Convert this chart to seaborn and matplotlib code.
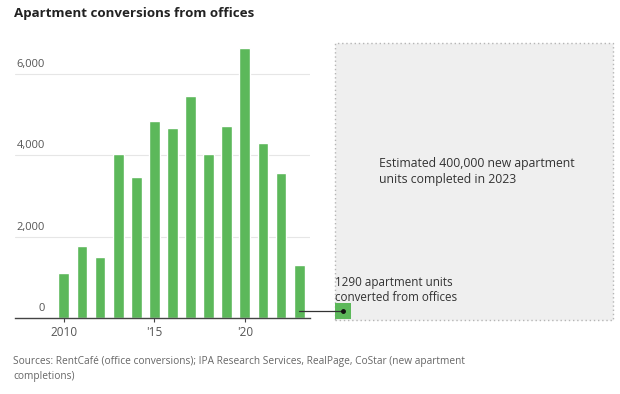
import matplotlib.pyplot as plt
import matplotlib.patches as mpatches
import pandas as pd
import seaborn as sns

years = [2010, 2011, 2012, 2013, 2014, 2015, 2016, 2017, 2018, 2019, 2020, 2021, 2022, 2023]
units = [1100, 1770, 1500, 4030, 3470, 4850, 4680, 5460, 4030, 4720, 6630, 4310, 3560, 1290]
ytick_vals = [0, 2000, 4000, 6000]
ytick_labels = ["0", "2,000", "4,000", "6,000"]
xtick_vals = [2010, 2015, 2020]
xtick_labels = ["2010", "'15", "'20"]

df = pd.DataFrame({"year": years, "units": units})

sns.set_style("white")
plt.rcParams["font.family"] = ["Open Sans", "DejaVu Sans"]

green = "#5cb85a"
W, H = 620, 394
fig = plt.figure(figsize=(6.2, 3.94), dpi=100)
ax = fig.add_axes([15 / W, (H - 318) / H, 295 / W, 275 / H])

sns.barplot(data=df, x="year", y="units", native_scale=True, color=green,
            width=0.6, saturation=1, ax=ax)

ax.set_xlim(2007.3, 2023.6)
ax.set_ylim(0, 6757)
for s in ["top", "right", "left"]:
    ax.spines[s].set_visible(False)
ax.spines["bottom"].set_color("#444444")
ax.spines["bottom"].set_linewidth(1)

# grid lines with labels sitting above them
for v, lab in zip(ytick_vals, ytick_labels):
    if v > 0:
        ax.axhline(v, color="#e6e6e6", lw=0.8, zorder=0)
    ax.text(30 / 295, v + 100, lab, transform=ax.get_yaxis_transform(),
            ha="right", va="bottom", fontsize=8, color="#555555")
ax.set_yticks([])
ax.set_ylabel("")
ax.set_xlabel("")
ax.set_xticks(xtick_vals)
ax.set_xticklabels(xtick_labels)
ax.tick_params(axis="x", length=3, width=0.8, color="#444444", labelsize=8.5,
               labelcolor="#555555", pad=3, bottom=True)

# title and source
fig.text(14 / W, 1 - 13 / H, "Apartment conversions from offices", fontsize=9.6,
         fontweight="bold", color="#222222", va="center", ha="left")
fig.text(13 / W, 1 - 369 / H,
         "Sources: RentCafé (office conversions); IPA Research Services, RealPage, CoStar (new apartment\ncompletions)",
         fontsize=7.3, color="#666666", va="center", ha="left", linespacing=1.5)

# comparison box
box = mpatches.Rectangle((335 / W, 1 - 320 / H), 278 / W, 277 / H,
                         transform=fig.transFigure, facecolor="#efefef",
                         edgecolor="#b5b5b5", lw=1, ls=(0, (1, 2)))
fig.patches.append(box)
fig.text(379 / W, 1 - 172 / H, "Estimated 400,000 new apartment\nunits completed in 2023",
         fontsize=8.8, color="#333333", va="center", ha="left", linespacing=1.3)

sq = mpatches.Rectangle((335 / W, 1 - 319 / H), 16 / W, 16 / H,
                        transform=fig.transFigure, facecolor=green, edgecolor="none")
fig.patches.append(sq)
fig.add_artist(plt.Line2D([299 / W, 343 / W], [1 - 311 / H, 1 - 311 / H],
                          transform=fig.transFigure, color="#333333", lw=0.9))
fig.add_artist(plt.Line2D([343 / W], [1 - 311 / H], transform=fig.transFigure,
                          marker="o", ms=2.5, color="#111111"))
fig.text(335 / W, 1 - 290 / H, "1290 apartment units\nconverted from offices",
         fontsize=8.4, color="#333333", va="center", ha="left", linespacing=1.2)

fig.savefig("out.png", dpi=100)
